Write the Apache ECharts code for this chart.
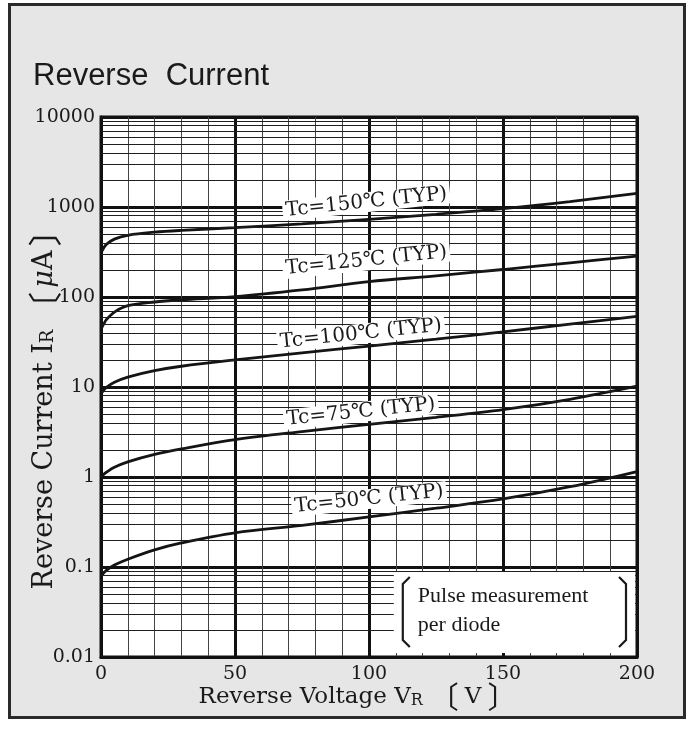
<!DOCTYPE html>
<html>
<head>
<meta charset="utf-8">
<script src="https://cdn.jsdelivr.net/npm/echarts@6/dist/echarts.min.js"></script>
<style>
html,body{margin:0;padding:0;background:#fff;}
#c{width:692px;height:731px;}
</style>
</head>
<body>
<div id="c"></div>
<script>
// ---- data ----
var voltages = [0, 1, 2, 5, 10, 20, 30, 50, 75, 100, 125, 150, 175, 200];
var tc150 = [310, 350, 385, 440, 485, 525, 550, 590, 650, 730, 830, 960, 1150, 1420];
var tc125 = [44, 50, 56, 68, 80, 88, 93, 101, 120, 148, 172, 202, 240, 285];
var tc100 = [8.3, 9.2, 9.9, 11.3, 12.9, 15.2, 17, 20, 24, 28.5, 34, 41, 50, 61];
var tc75  = [1.0, 1.07, 1.13, 1.28, 1.47, 1.78, 2.05, 2.6, 3.2, 3.85, 4.6, 5.6, 7.3, 10.2];
var tc50  = [0.08, 0.086, 0.092, 0.105, 0.122, 0.155, 0.185, 0.24, 0.29, 0.36, 0.45, 0.57, 0.78, 1.15];
var seriesNames = ['Tc=150℃ (TYP)', 'Tc=125℃ (TYP)', 'Tc=100℃ (TYP)', 'Tc=75℃ (TYP)', 'Tc=50℃ (TYP)'];
var seriesData = [tc150, tc125, tc100, tc75, tc50];
// label anchor points [V, IR]
var labelAnchors = [[99, 1130], [99, 255], [97, 39], [97, 5.3], [100, 0.57]];
var xTicks = [0, 50, 100, 150, 200];
var yTicks = [0.01, 0.1, 1, 10, 100, 1000, 10000];
var minorMult = [2, 3, 4, 5, 6, 7, 8, 9];
var noteLines = ['Pulse measurement', 'per diode'];
var noteRange = {x0: 110, x1: 200, y0: 0.01, y1: 0.1};

var serif = '"DejaVu Serif", "Liberation Serif", serif';
var serif2 = '"Liberation Serif", "DejaVu Serif", serif';
var cjk = '"Noto Sans CJK JP", "DejaVu Serif", serif';

var minorY = [];
for (var d = 0; d < yTicks.length - 1; d++) {
  for (var m = 0; m < minorMult.length; m++) {
    minorY.push({yAxis: +(yTicks[d] * minorMult[m]).toPrecision(3)});
  }
}

var chart = echarts.init(document.getElementById('c'), null, {renderer: 'canvas'});

var series = seriesData.map(function (arr, i) {
  return {
    name: seriesNames[i],
    type: 'line',
    data: voltages.map(function (v, j) { return [v, arr[j]]; }),
    smooth: 0.35,
    showSymbol: false,
    symbol: 'none',
    lineStyle: {color: '#141414', width: 2.8},
    z: 3,
    markPoint: {
      symbol: 'circle',
      symbolSize: 0,
      silent: true,
      z: 6,
      data: [{coord: labelAnchors[i], value: seriesNames[i]}],
      label: {
        show: true,
        position: 'inside',
        formatter: seriesNames[i],
        rotate: 6,
        fontFamily: serif,
        fontSize: 20,
        color: '#1a1a1a',
        backgroundColor: '#ffffff',
        padding: [0, 3, 0, 3]
      }
    }
  };
});

// dummy series carrying minor horizontal grid lines
series.push({
  name: 'minor',
  type: 'line',
  data: [],
  z: 1,
  markLine: {
    silent: true,
    symbol: ['none', 'none'],
    label: {show: false},
    lineStyle: {type: 'solid', color: '#1e1e1e', width: 1},
    emphasis: {disabled: true},
    data: minorY,
    animation: false
  }
});

var xRich = {
  s: {fontFamily: serif, fontSize: 16, color: '#1a1a1a', padding: [7, 0, 0, 0]},
  b: {fontFamily: cjk, fontSize: 30, color: '#1a1a1a', padding: [0, 6, 0, 6]}
};
var yRich = {
  s: {fontFamily: serif, fontSize: 18, color: '#1a1a1a', padding: [7, 0, 0, 0]},
  b: {fontFamily: cjk, fontSize: 34, color: '#1a1a1a', padding: [0, 4, 0, 4]},
  m: {fontFamily: serif, fontSize: 27, fontStyle: 'italic', color: '#1a1a1a'}
};

var option = {
  animation: false,
  backgroundColor: 'transparent',
  title: {
    text: 'Reverse  Current',
    left: 28,
    top: 56,
    textStyle: {fontFamily: '"Liberation Sans", Arial, sans-serif', fontSize: 31, fontWeight: 'normal', color: '#1a1a1a'}
  },
  grid: {
    left: 101, right: 55, top: 117, bottom: 74,
    outerBoundsMode: 'none',
    containLabel: false,
    show: true,
    backgroundColor: '#ffffff',
    borderColor: '#111',
    borderWidth: 3
  },
  xAxis: {
    type: 'value',
    min: 0, max: 200, interval: 50,
    name: 'Reverse Voltage V{s|R}{b|〔}V{b|〕}',
    nameLocation: 'middle',
    nameMoveOverlap: false,
    nameGap: 25,
    nameTextStyle: {fontFamily: serif, fontSize: 23, color: '#1a1a1a', verticalAlign: 'top',
      padding: [0, 16, 0, 0], rich: xRich},
    axisLine: {show: true, lineStyle: {color: '#111', width: 3}},
    axisTick: {show: false},
    axisLabel: {fontFamily: serif, fontSize: 19, color: '#1a1a1a', margin: 8,
      formatter: function (v) { return xTicks.indexOf(v) >= 0 ? String(v) : ''; }},
    splitLine: {show: true, lineStyle: {color: '#111', width: 3}},
    minorTick: {show: false, splitNumber: 5},
    minorSplitLine: {show: true, lineStyle: {color: '#444', width: 1}}
  },
  yAxis: {
    type: 'log',
    logBase: 10,
    min: 0.01, max: 10000,
    name: 'Reverse Current I{s|R}{b|〔}{m|μ}A{b|〕}',
    nameLocation: 'middle',
    nameMoveOverlap: false,
    nameGap: 56,
    nameTextStyle: {fontFamily: serif, fontSize: 27, color: '#1a1a1a', verticalAlign: 'middle',
      padding: [0, 24, 0, 0], rich: yRich},
    axisLine: {show: true, lineStyle: {color: '#111', width: 3}},
    axisTick: {show: false},
    axisLabel: {fontFamily: serif, fontSize: 19, color: '#1a1a1a', margin: 6,
      formatter: function (v) {
        for (var i = 0; i < yTicks.length; i++) {
          if (Math.abs(v - yTicks[i]) / yTicks[i] < 1e-6) return String(yTicks[i]);
        }
        return '';
      }},
    splitLine: {show: true, lineStyle: {color: '#111', width: 3}},
    minorSplitLine: {show: false}
  },
  series: series
};

chart.setOption(option);

// frame and note box (positions derived from axis scales)
var p0 = chart.convertToPixel({gridIndex: 0}, [noteRange.x0, noteRange.y1]);
var p1 = chart.convertToPixel({gridIndex: 0}, [noteRange.x1, noteRange.y0]);
var bx = p0[0] - 2, by = p0[1] + 5, bw = p1[0] - p0[0], bh = p1[1] - p0[1] - 9;
var lx = bx + 9, rx = bx + bw - 9;
var ty = by + 9, byy = by + bh - 10;

chart.setOption({
  graphic: [
    {type: 'rect', z: -10, silent: true,
      shape: {x: 9.5, y: 4.5, width: 675, height: 713},
      style: {fill: '#e6e6e6', stroke: '#2a2a2a', lineWidth: 3}},
    {type: 'rect', z: 20, silent: true,
      shape: {x: bx, y: by, width: bw, height: bh},
      style: {fill: '#ffffff'}},
    {type: 'polyline', z: 21, silent: true,
      shape: {points: [[lx + 7, ty - 4], [lx, ty + 3], [lx, byy - 3], [lx + 7, byy + 4]]},
      style: {stroke: '#1a1a1a', lineWidth: 2.2, fill: null}},
    {type: 'polyline', z: 21, silent: true,
      shape: {points: [[rx - 7, ty - 4], [rx, ty + 3], [rx, byy - 3], [rx - 7, byy + 4]]},
      style: {stroke: '#1a1a1a', lineWidth: 2.2, fill: null}},
    {type: 'text', z: 21, silent: true,
      style: {x: lx + 15, y: ty + 1, text: noteLines.join('\n'), fontFamily: serif2, fontSize: 22, lineHeight: 29, fill: '#1a1a1a', textVerticalAlign: 'top'}}
  ]
});
</script>
</body>
</html>
